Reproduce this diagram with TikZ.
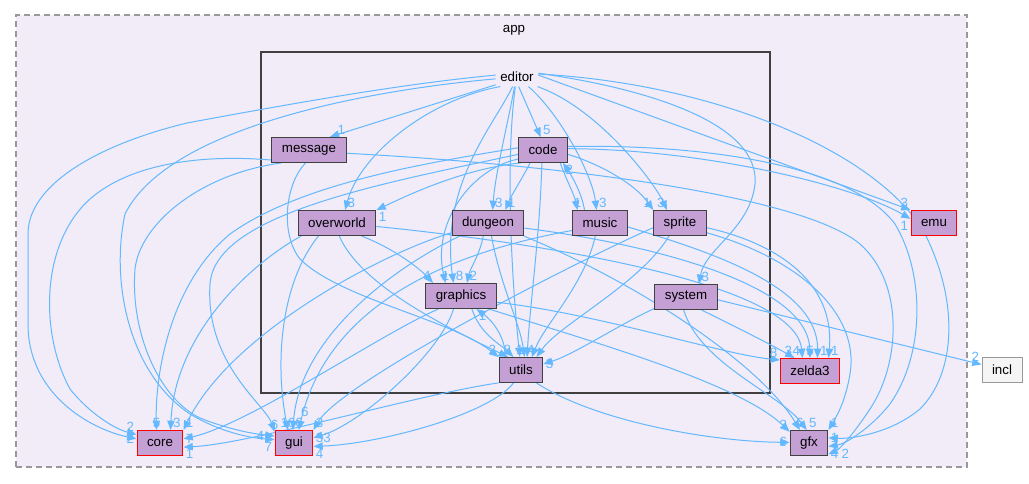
\documentclass[tikz,border=0pt]{standalone}
\usepackage{fontspec}
\setmainfont{Liberation Sans}
\usetikzlibrary{arrows.meta,positioning}
\definecolor{depblue}{RGB}{99,184,255}
\definecolor{dirfill}{RGB}{196,160,212}
\definecolor{dirline}{RGB}{64,64,64}
\definecolor{appfill}{RGB}{241,236,247}
\definecolor{appline}{RGB}{153,153,153}
\pgfdeclarelayer{back}
\pgfdeclarelayer{edges}
\pgfsetlayers{back,edges,main}

\begin{document}
\begin{tikzpicture}[x=0.75pt,y=0.75pt,
  dirbox/.style={draw=dirline, fill=dirfill, line width=0.75pt, minimum height=18.75pt,
    inner xsep=7.5pt, inner ysep=2pt},
  reddir/.style={dirbox, draw=red},
  extbox/.style={dirbox, draw=appline, fill=white!96!black},
  dep/.style={draw=depblue, line width=0.75pt, -{Triangle[length=7pt,width=5.5pt]}},
  lbl/.style={text=depblue, inner sep=1.5pt}]

  % Fixed bounding box (same size as the doxygen picture)
  \useasboundingbox (0,0) rectangle (1029,484);

  % ---- clusters ----
  \begin{pgfonlayer}{back}
    \draw[appline, fill=appfill, line width=1pt, dash pattern=on 4.5pt off 3pt] (16,17) rectangle (967,469);
    \draw[dirline, fill=appfill, line width=1.5pt] (261,91) rectangle (770,432);
  \end{pgfonlayer}
  \node (app) at (514,454) {app};
  \node (editor) at (517,407) {editor};

  % ---- directories ----
  \node[dirbox] (message) at (309,334) {message};
  \node[dirbox] (code) at (543,334) {code};
  \node[dirbox] (overworld) at (337,261) {overworld};
  \node[dirbox] (dungeon) at (488,261) {dungeon};
  \node[dirbox] (music) at (600,261) {music};
  \node[dirbox] (sprite) at (680,261) {sprite};
  \node[dirbox] (graphics) at (461,188) {graphics};
  \node[dirbox] (system) at (686,187) {system};
  \node[dirbox] (utils) at (521,114) {utils};
  \node[reddir] (zelda3) at (810,113) {zelda3};
  \node[reddir] (core) at (160,41) {core};
  \node[reddir] (gui) at (294,41) {gui};
  \node[dirbox] (gfx) at (809,41) {gfx};
  \node[reddir] (emu) at (934,261) {emu};
  \node[extbox] (incl) at (1002,114) {incl};

  \begin{pgfonlayer}{edges}
  % ---- from editor ----
  \draw[dep] (editor.200) -- (message.32) node[lbl,anchor=south west,xshift=4pt] (l1) {1};
  \draw[dep] (editor.-80) -- (code.100) node[lbl,anchor=south west] (l2) {5};
  \draw[dep] (editor.-150) .. controls (430,385) and (360,330) .. (overworld.58) node[lbl,anchor=south west] (l3) {3};
  \draw[dep] (editor.-105) .. controls (510,370) and (495,310) .. (dungeon.70) node[lbl,anchor=south west] (l4) {3};
  \draw[dep] (editor.-40) .. controls (560,370) and (592,310) .. (music.105) node[lbl,anchor=south west] (l5) {3};
  \draw[dep] (editor.-25) .. controls (600,375) and (655,300) .. (sprite.135) node[lbl,anchor=south east] (l6) {3};
  \draw[dep] (editor.-115) .. controls (495,360) and (440,300) .. (graphics.120) node[lbl,anchor=south west] (l7) {8};
  \draw[dep] (editor.-100) .. controls (505,320) and (512,200) .. (utils.95) node[lbl,anchor=south] (l8) {1};
  \draw[dep] (editor.10) .. controls (650,395) and (760,360) .. (755,300)
    .. controls (750,255) and (705,235) .. (system.45) node[lbl,anchor=south west] (l9) {3};
  \draw[dep] (editor.5) -- (emu.north west) node[lbl,anchor=south east] (l10) {3};
  \draw[dep] (editor.175) .. controls (400,400) and (290,380) .. (187,361)
    .. controls (100,340) and (28,300) .. (28,250) -- (28,160)
    .. controls (28,90) and (90,55) .. (core.170) node[lbl,anchor=east] (l11) {2};
  \draw[dep] (editor.185) .. controls (380,395) and (170,360) .. (125,270)
    .. controls (110,200) and (130,110) .. (190,70)
    .. controls (220,52) and (250,46) .. (gui.170) node[lbl,anchor=north east] (l12) {7};
  \draw[dep] (editor.8) .. controls (720,400) and (880,330) .. (925,250)
    .. controls (960,180) and (955,110) .. (920,75)
    .. controls (890,50) and (850,45) .. (gfx.15) node[lbl,anchor=west] (l13) {1};

  % ---- from code ----
  \draw[dep] (code.-150) .. controls (460,315) and (400,285) .. (overworld.north east) node[lbl,anchor=north west] (l14) {1};
  \draw[dep] (code.-135) .. controls (522,305) and (512,290) .. (dungeon.37) node[lbl,anchor=south west] (l15) {1};
  \draw[dep] (code.-37) .. controls (566,305) and (574,290) .. (music.150) node[lbl,anchor=south] (l16) {1};
  \draw[dep] (code.-10) .. controls (600,320) and (635,300) .. (sprite.north west) node[lbl,anchor=south east] (l17) {1};
  \draw[dep] (code.-160) .. controls (470,315) and (432,260) .. (graphics.140) node[lbl,anchor=south] (l18) {1};
  \draw[dep] (code.-95) .. controls (540,250) and (530,180) .. (utils.65);
  \draw[dep] (code.175) .. controls (420,320) and (300,300) .. (230,250)
    .. controls (170,200) and (155,110) .. (core.105) node[lbl,anchor=south] (l19) {5};
  \draw[dep] (code.-170) .. controls (380,300) and (215,270) .. (210,200)
    .. controls (205,120) and (265,80) .. (gui.150) node[lbl,anchor=south] (l20) {6};
  \draw[dep] (code.8) .. controls (700,340) and (850,320) .. (895,260)
    .. controls (925,210) and (925,130) .. (890,80)
    .. controls (870,55) and (845,40) .. (gfx.-10) node[lbl,anchor=north west] (l21) {4};
  \draw[dep] (code.3) .. controls (700,335) and (850,300) .. (emu.170) node[lbl,anchor=north east] (l22) {1};

  % ---- from message ----
  \draw[dep] (message.-165) .. controls (200,330) and (130,320) .. (90,285)
    .. controls (40,240) and (40,150) .. (70,95)
    .. controls (90,70) and (115,55) .. (core.160) node[lbl,anchor=south east] (l23) {2};
  \draw[dep] (message.-155) .. controls (200,310) and (140,260) .. (135,215)
    .. controls (130,150) and (160,85) .. (200,66)
    .. controls (230,54) and (255,50) .. (gui.160) node[lbl,anchor=east,xshift=-6pt] (l24) {4};
  \draw[dep] (message.-105) .. controls (285,300) and (280,250) .. (300,225)
    .. controls (340,185) and (450,165) .. (utils.north west) node[lbl,anchor=south east] (l25) {2};
  \draw[dep] (message.-5) .. controls (550,320) and (800,290) .. (860,240)
    .. controls (905,200) and (900,120) .. (870,75)
    .. controls (855,52) and (840,35) .. (gfx.-30) node[lbl,anchor=west,xshift=8pt] (l26) {2};

  % ---- from overworld ----
  \draw[dep] (overworld.-28) .. controls (395,235) and (420,215) .. (graphics.155) node[lbl,anchor=south east] (l27) {4};
  \draw[dep] (overworld.-80) .. controls (360,200) and (440,160) .. (utils.135);
  \draw[dep] (overworld.-160) .. controls (250,220) and (175,150) .. (core.51) node[lbl,anchor=south west] (l28) {3};
  \draw[dep] (overworld.-145) .. controls (280,200) and (275,120) .. (gui.115) node[lbl,anchor=south] (l29) {16};
  \draw[dep] (overworld.-5) .. controls (550,240) and (795,200) .. (zelda3.120) node[lbl,anchor=south east] (l30) {4};

  % ---- from dungeon ----
  \draw[dep] (dungeon.-110) .. controls (480,230) and (470,215) .. (graphics.65) node[lbl,anchor=south west] (l31) {2};
  \draw[dep] (dungeon.-75) .. controls (500,200) and (520,160) .. (utils.75) node[lbl,anchor=south west] (l32) {4};
  \draw[dep] (dungeon.-165) .. controls (380,230) and (230,150) .. (core.north east) node[lbl,anchor=south west] (l33) {1};
  \draw[dep] (dungeon.-155) .. controls (400,220) and (300,150) .. (gui.95) node[lbl,anchor=south west] (l34) {6};
  \draw[dep] (dungeon.-8) .. controls (650,240) and (808,200) .. (zelda3.90) node[lbl,anchor=south] (l35) {5};
  \draw[dep] (dungeon.-20) .. controls (640,200) and (760,120) .. (gfx.125) node[lbl,anchor=south] (l36) {6};

  % ---- from music ----
  \draw[dep] (music.140) .. controls (582,290) and (572,308) .. (code.-33) node[lbl,anchor=north west] (l37) {2};
  \draw[dep] (music.-110) .. controls (585,200) and (545,160) .. (utils.50);
  \draw[dep] (music.-165) .. controls (470,235) and (330,190) .. (gui.70) node[lbl,anchor=south west,yshift=8pt] (l38) {6};
  \draw[dep] (music.-8) .. controls (700,235) and (818,200) .. (zelda3.60) node[lbl,anchor=south west] (l39) {1};

  % ---- from sprite ----
  \draw[dep] (sprite.-130) .. controls (640,200) and (560,160) .. (utils.40);
  \draw[dep] (sprite.-170) .. controls (560,215) and (340,100) .. (gui.north east) node[lbl,anchor=south west] (l40) {3};
  \draw[dep] (sprite.-10) .. controls (780,240) and (835,200) .. (zelda3.35) node[lbl,anchor=south west] (l41) {1};
  \draw[dep] (sprite.-20) .. controls (800,225) and (860,170) .. (850,110)
    .. controls (845,80) and (835,65) .. (gfx.north east) node[lbl,anchor=south west] (l42) {1};

  % ---- from graphics ----
  \draw[dep] (graphics.-50) .. controls (480,150) and (500,140) .. (utils.120) node[lbl,anchor=south east] (l43) {8};
  \draw[dep] (graphics.-150) .. controls (380,150) and (250,60) .. (core.10) node[lbl,anchor=west] (l44) {7};
  \draw[dep] (graphics.-120) .. controls (440,130) and (360,60) .. (gui.15) node[lbl,anchor=west] (l45) {33};
  \draw[dep] (graphics.-10) .. controls (600,170) and (720,130) .. (zelda3.160) node[lbl,anchor=south east] (l46) {8};
  \draw[dep] (graphics.-25) .. controls (600,140) and (740,100) .. (gfx.150) node[lbl,anchor=south east] (l47) {3};

  % ---- from utils ----
  \draw[dep] (utils.140) .. controls (505,150) and (490,165) .. (graphics.-40) node[lbl,anchor=north west] (l48) {1};
  \draw[dep] (utils.-150) .. controls (420,90) and (250,40) .. (core.-10) node[lbl,anchor=north west] (l49) {1};
  \draw[dep] (utils.-120) .. controls (490,70) and (380,40) .. (gui.-10) node[lbl,anchor=north west] (l50) {4};
  \draw[dep] (utils.-40) .. controls (600,60) and (720,42) .. (gfx.178) node[lbl,anchor=east] (l51) {6};

  % ---- from system ----
  \draw[dep] (system.-160) .. controls (620,160) and (575,130) .. (utils.15) node[lbl,anchor=west] (l52) {3};
  \draw[dep] (system.-40) .. controls (730,160) and (770,140) .. (zelda3.140) node[lbl,anchor=south east] (l53) {3};
  \draw[dep] (system.-100) .. controls (700,120) and (780,90) .. (gfx.100) node[lbl,anchor=south west] (l54) {5};
  \draw[dep] (system.-5) -- (incl.165) node[lbl,anchor=south east] (l55) {2};
  \end{pgfonlayer}

\end{tikzpicture}
\end{document}
